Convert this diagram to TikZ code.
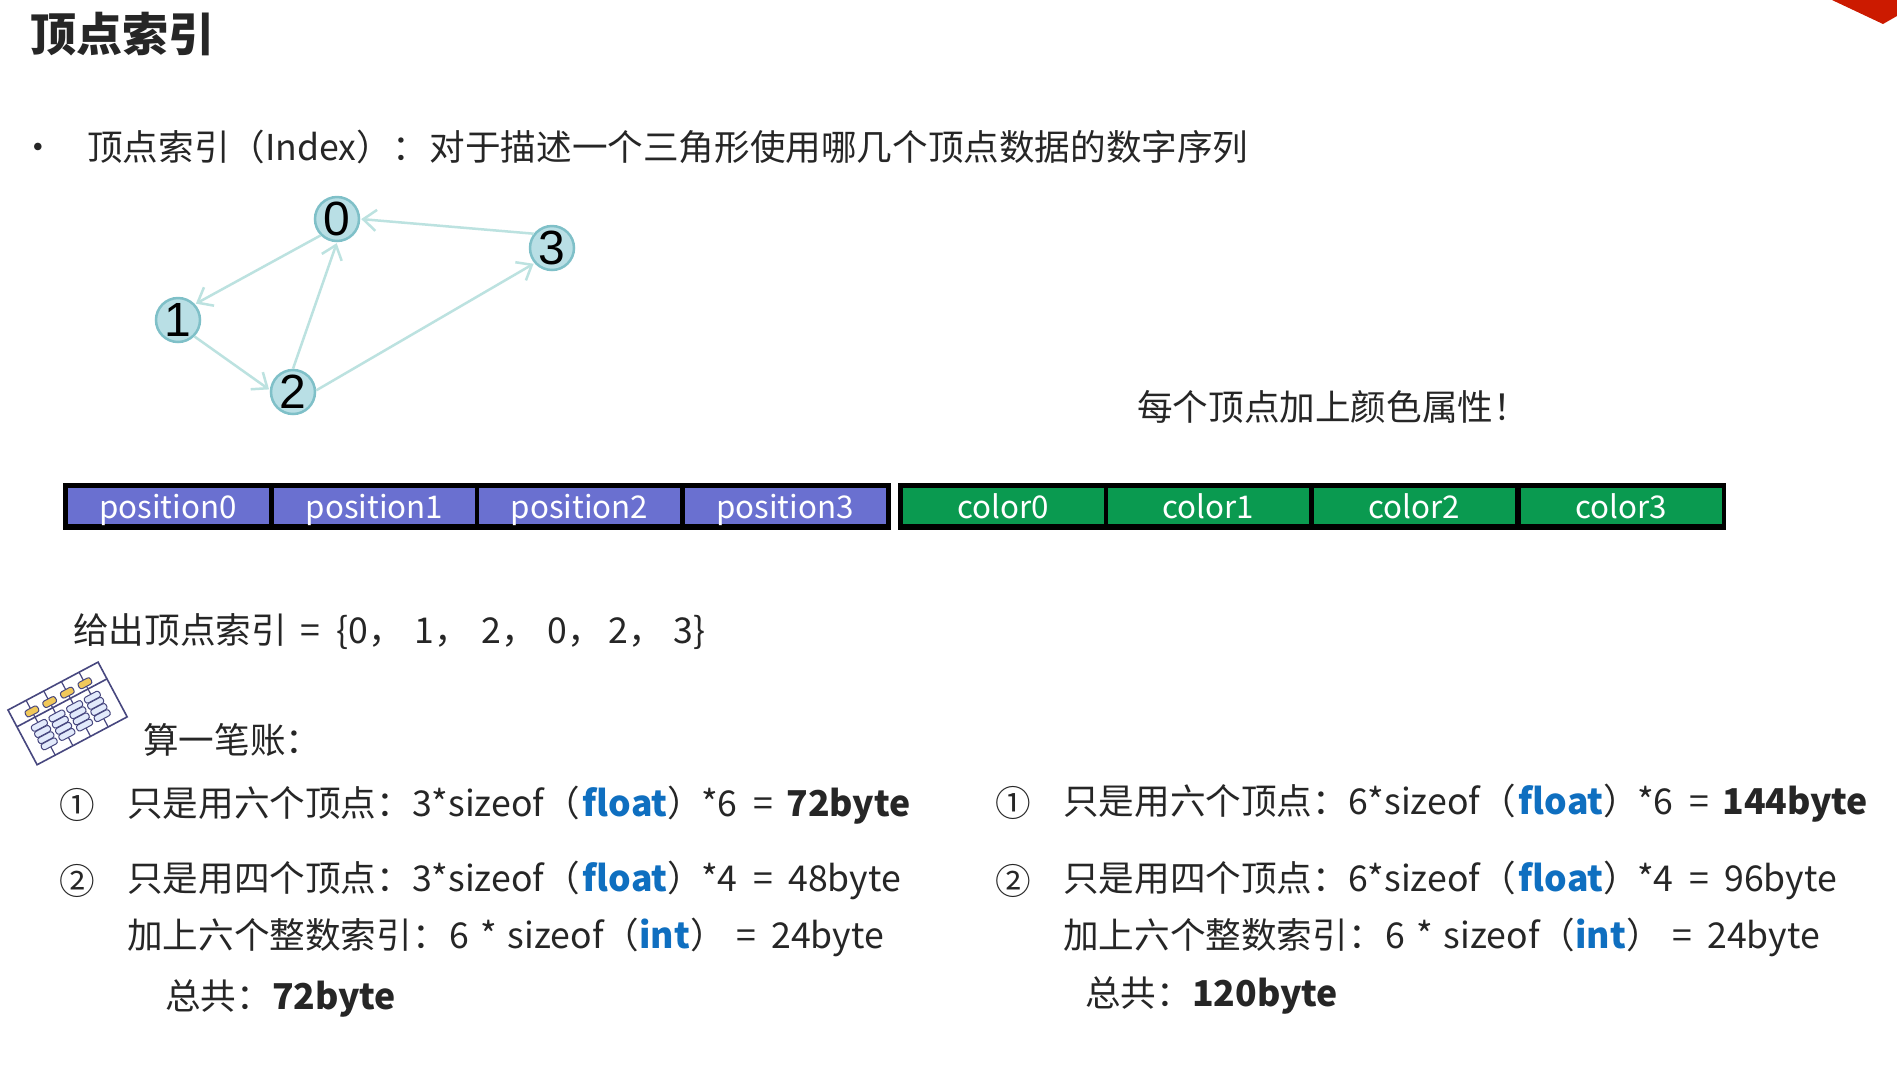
\documentclass[tikz,border=0pt]{standalone}
\usepackage{fontspec}
\setmainfont{Noto Sans CJK SC}
\newfontfamily\digitfont{Liberation Sans}
\usetikzlibrary{arrows.meta}
\definecolor{blueCell}{HTML}{6A70D0}
\definecolor{greenCell}{HTML}{0A9A50}
\definecolor{kw}{HTML}{0F6FC0}
\definecolor{edgeC}{HTML}{BCE2E0}
\definecolor{nodeF}{HTML}{B9DFE5}
\definecolor{nodeD}{HTML}{7FC0C8}
\definecolor{abacusC}{HTML}{47477F}
\definecolor{txt}{HTML}{262626}
\definecolor{redC}{HTML}{CC1A00}
\definecolor{beadY}{HTML}{F0C85A}
\definecolor{beadB}{HTML}{E2EAFB}
\newcommand{\fs}[1]{\fontsize{#1}{#1}\selectfont}
\newcommand{\kwd}[1]{\textbf{\textcolor{kw}{#1}}}
\newcommand{\gp}[1]{\hspace*{#1pt}}
\tikzset{
 x=1pt,y=-1pt,
 line/.style={anchor=west,inner sep=0pt,text=txt,font=\fs{35.6}},
 title/.style={anchor=west,inner sep=0pt,text=txt,font=\fs{46}\bfseries},
 gnode/.style={circle,draw=nodeD,line width=2.5pt,fill=nodeF,minimum size=44pt,inner sep=0pt,text=black,font=\digitfont\fs{48}},
 gedge/.style={draw=edgeC,line width=2.5pt,-{Straight Barb[length=13pt,width=21pt,line width=2.5pt]},shorten >=1pt},
 cell/.style={minimum height=36pt,inner sep=0pt,text=white,font=\fs{31.3},text depth=0pt},
 bluecell/.style={cell,fill=blueCell,minimum width=201pt},
 greencell/.style={cell,fill=greenCell,minimum width=201pt},
 barbg/.style={fill=black,draw=none},
 abline/.style={draw=abacusC,line width=1.6pt},
 bead/.style={draw=abacusC,line width=1pt,fill=#1,rounded corners=2.5pt},
}
\begin{document}
\begin{tikzpicture}
\useasboundingbox (0,0) rectangle (1897,1069);
\fill[white] (0,0) rectangle (1897,1069);
\fill[redC] (1832,0) -- (1883,24) -- (1897,16) -- (1897,0) -- cycle;

\node[title] (t) at (30,34) {顶点索引};
\node[line] (bul) at (20,152) {•};
\node[line] (idx) at (87,147) {顶点索引（Index）：\gp{2}对于描述一个三角形使用哪几个顶点数据的数字序列};

\node[gnode] (n0) at (337,219) {0};
\node[gnode] (n1) at (178,320) {1};
\node[gnode] (n2) at (293,392) {2};
\node[gnode] (n3) at (552,248) {3};
\draw[gedge] (n0.225) -- (n1.43);
\draw[gedge] (n1.-45) -- (n2.175);
\draw[gedge] (n2.90) -- (n0.270);
\draw[gedge] (n2.4) -- (n3.221);
\draw[gedge] (n3.142) -- (n0.0);

\node[line] (each) at (1137,407) {每个顶点加上颜色属性！};

\fill[barbg] (63,483) rectangle (891,530);
\fill[barbg] (898,483) rectangle (1726,530);
\node[bluecell] (p0) at (168,506) {position0};
\node[bluecell] (p1) at (374.5,506) {position1};
\node[bluecell] (p2) at (579.5,506) {position2};
\node[bluecell] (p3) at (785,506) {position3};
\node[greencell] (c0) at (1003.5,506) {color0};
\node[greencell] (c1) at (1208.5,506) {color1};
\node[greencell] (c2) at (1414.5,506) {color2};
\node[greencell] (c3) at (1621,506) {color3};

\node[line] (give) at (73,632) {给出顶点索引\gp{6} = \gp{8}\{0，\gp{11}1，\gp{11}2，\gp{11}0，\gp{6}2，\gp{9}3\}};

% abacus
\begin{scope}[shift={(8,710)},rotate=28]
 \draw[abline,fill=white] (0,0) rectangle (102,62);
 \draw[abline] (0,19) -- (102,19);
 \foreach \u in {20.5,40.5,60.5,80.5}{
   \draw[abline,line width=1.2pt] (\u,0) -- (\u,62);
   \draw[bead=beadY] (\u-7,9) rectangle (\u+7,16);
   \foreach \v in {25,32,39,46}{
     \draw[bead=beadB] (\u-8.5,\v) rectangle (\u+8.5,\v+6.5);
   }
 }
\end{scope}

\node[line] (acc) at (143,740) {算一笔账：};

\node[line,anchor=center] (l1n) at (77,805) {①};
\node[line] (l1) at (127,805) {只是用六个顶点：3*sizeof（\gp{3}\kwd{float}）\gp{-2}*6\gp{8} = \gp{5}\textbf{72byte}};
\node[line,anchor=center] (l2n) at (77,881) {②};
\node[line] (l2) at (127,880) {只是用四个顶点：3*sizeof（\gp{3}\kwd{float}）\gp{-2}*4\gp{8} = \gp{7}48byte};
\node[line] (l3) at (127,937) {加上六个整数索引：\gp{2}6\gp{3} * \gp{3}sizeof（\kwd{int}）\gp{3} = \gp{7}24byte};
\node[line] (l4) at (165,998) {总共：\textbf{72byte}};

\node[line,anchor=center] (r1n) at (1013,803) {①};
\node[line] (r1) at (1063,803) {只是用六个顶点：6*sizeof（\gp{3}\kwd{float}）\gp{-2}*6\gp{8} = \gp{5}\textbf{144byte}};
\node[line,anchor=center] (r2n) at (1013,881) {②};
\node[line] (r2) at (1063,880) {只是用四个顶点：6*sizeof（\gp{3}\kwd{float}）\gp{-2}*4\gp{8} = \gp{7}96byte};
\node[line] (r3) at (1063,937) {加上六个整数索引：\gp{2}6\gp{3} * \gp{3}sizeof（\kwd{int}）\gp{3} = \gp{7}24byte};
\node[line] (r4) at (1085,995) {总共：\textbf{120byte}};
\end{tikzpicture}
\end{document}
